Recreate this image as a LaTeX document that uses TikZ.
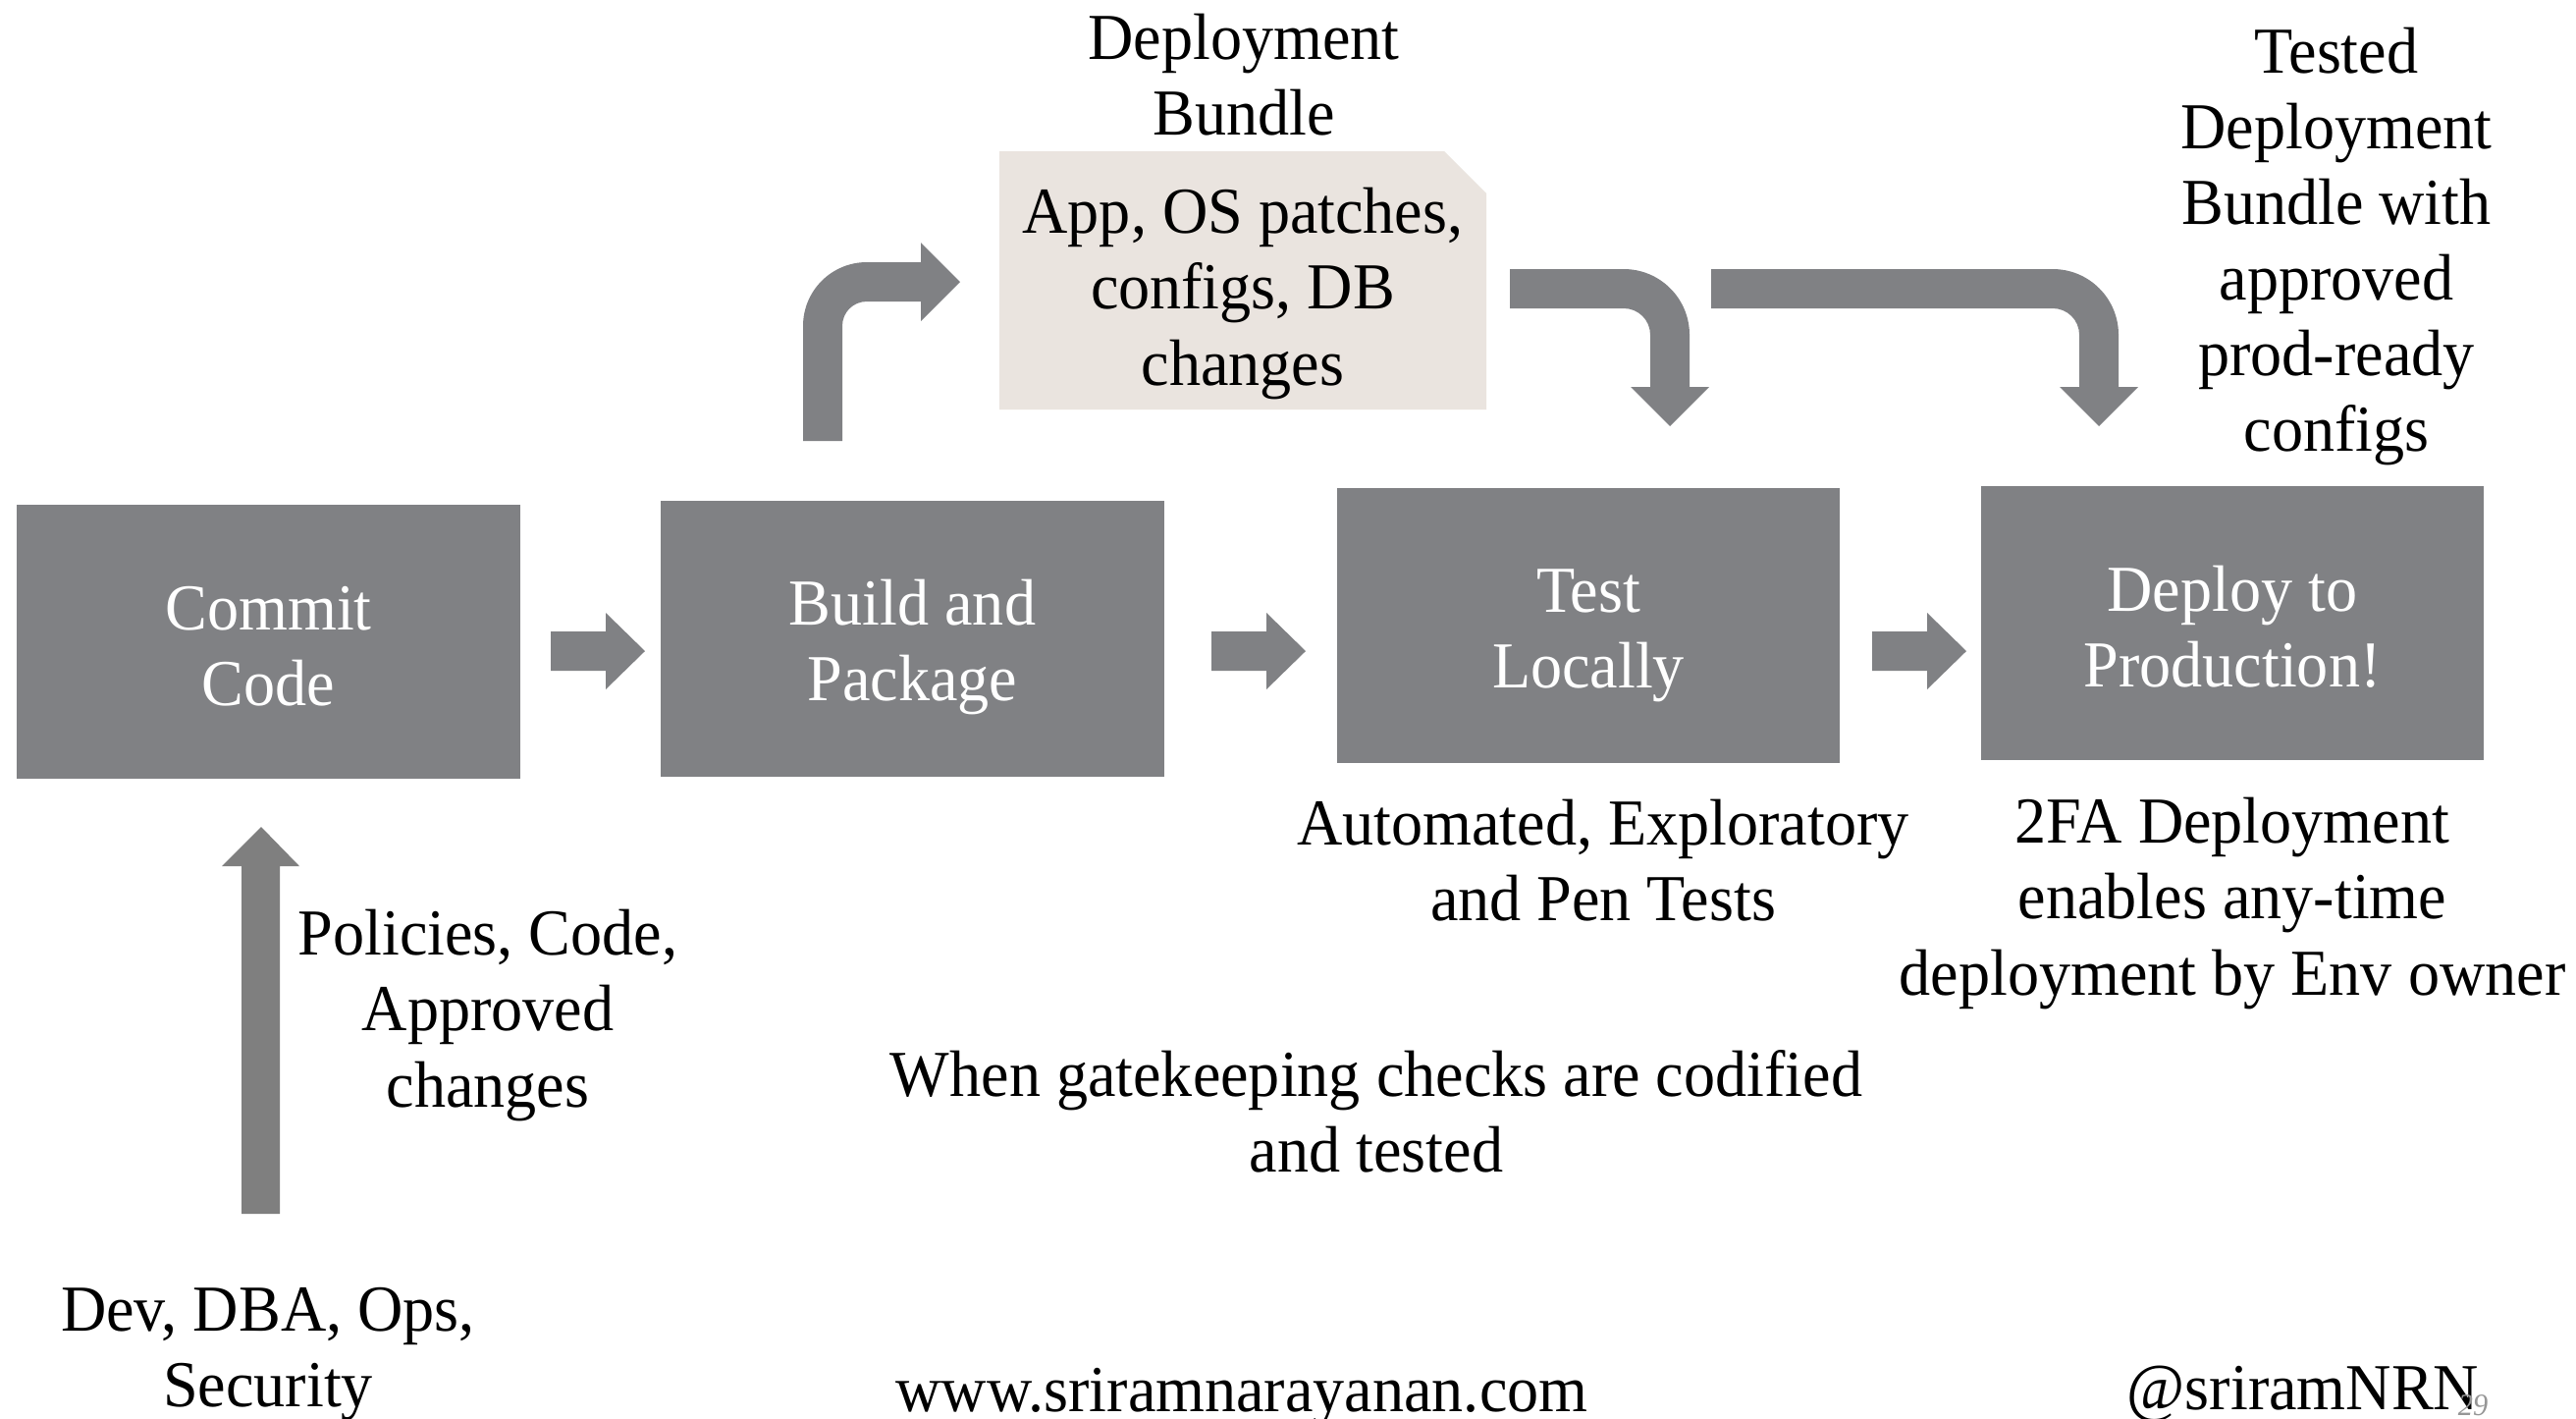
\documentclass[tikz,border=0pt]{standalone}
\usepackage{fontspec}
\setmainfont{Liberation Serif}[FakeStretch=0.96]
\definecolor{boxgray}{RGB}{128,129,132}
\definecolor{arrgray}{RGB}{127,127,127}
\definecolor{bundlefill}{RGB}{234,228,223}
\definecolor{pagegray}{RGB}{150,150,150}
\tikzset{
  stagebox/.style={fill=boxgray, draw=none, text=white, align=center, inner sep=0pt,
    minimum width=5.13cm, minimum height=2.8cm, font=\fontsize{19}{21.9}\selectfont},
  lbl/.style={align=center, inner sep=0pt, text=black, font=\fontsize{19}{21.9}\selectfont},
  blockarrow/.style={fill=boxgray, draw=none},
}
\begin{document}
\begin{tikzpicture}[x=0.01cm, y=-0.01cm]
\useasboundingbox (0,0) rectangle (2624,1444);
\fill[white] (0,0) rectangle (2624,1444);

% stage boxes
\fill[boxgray] (17,514) rectangle (530,793);
\node[stagebox, fill=none, minimum height=0pt] (commit) at (273.5,658) {Commit\\Code};
\fill[boxgray] (673,510) rectangle (1186,791);
\node[stagebox, fill=none, minimum height=0pt] (build) at (929.5,659) {Build and\\Package};
\fill[boxgray] (1362,497) rectangle (1874,777);
\node[stagebox, fill=none, minimum height=0pt] (test) at (1618,647) {Test\\Locally};
\fill[boxgray] (2018,495) rectangle (2530,774);
\node[stagebox, fill=none, minimum height=0pt] (deploy) at (2274,638) {Deploy to\\Production!};

% deployment bundle (cut corner)
\fill[bundlefill] (1018,154) -- (1471,154) -- (1514,197) -- (1514,417) -- (1018,417) -- cycle;
\node[lbl] (bundle) at (1266,299) {App, OS patches,\\configs, DB\\changes};
\node[lbl] (bundletitle) at (1267,76) {Deployment\\Bundle};

% straight block arrows between boxes
\fill[blockarrow] (561,643) -- (617,643) -- (617,624) -- (657,663) -- (617,702) -- (617,683) -- (561,683) -- cycle;
\fill[blockarrow] (1234,643) -- (1290,643) -- (1290,624) -- (1330,663) -- (1290,702) -- (1290,683) -- (1234,683) -- cycle;
\fill[blockarrow] (1907,643) -- (1963,643) -- (1963,624) -- (2003,663) -- (1963,702) -- (1963,683) -- (1907,683) -- cycle;

% bent arrow: build -> bundle
\fill[blockarrow] (818,449) -- (818,332) .. controls (818,296) and (847,267) .. (883,267)
  -- (938,267) -- (938,247) -- (978,287) -- (938,327) -- (938,307) -- (883,307)
  .. controls (869,307) and (858,318) .. (858,332) -- (858,449) -- cycle;

% bent arrow: bundle -> test
\fill[blockarrow] (1538,274) -- (1654,274) .. controls (1691,274) and (1721,304) .. (1721,341)
  -- (1721,394) -- (1741,394) -- (1701,434) -- (1661,394) -- (1681,394) -- (1681,341)
  .. controls (1681,326) and (1669,314) .. (1654,314) -- (1538,314) -- cycle;

% bent arrow: -> deploy
\fill[blockarrow] (1743,274) -- (2091,274) .. controls (2128,274) and (2158,304) .. (2158,341)
  -- (2158,394) -- (2178,394) -- (2138,434) -- (2098,394) -- (2118,394) -- (2118,341)
  .. controls (2118,326) and (2106,314) .. (2091,314) -- (1743,314) -- cycle;

% up arrow into commit
\fill[arrgray] (246,1236) -- (246,882) -- (226,882) -- (266,842) -- (305,882) -- (285,882) -- (285,1236) -- cycle;

% labels
\node[lbl] (tested) at (2380,251) {Tested\\Deployment\\Bundle with\\approved\\prod-ready\\configs};
\node[lbl] (auto) at (1633,876) {Automated, Exploratory\\and Pen Tests};
\node[lbl] (twofa) at (2274,920) {2FA Deployment\\enables any-time\\deployment by Env owner};
\node[lbl] (policies) at (497,1034) {Policies, Code,\\Approved\\changes};
\node[lbl] (when) at (1402,1132) {When gatekeeping checks are codified\\and tested};
\node[lbl] (dev) at (273,1379) {Dev, DBA, Ops,\\Security};
\node[lbl] (www) at (1265,1423) {www.sriramnarayanan.com};
\node[lbl] (handle) at (2346,1420) {@sriramNRN};
\node[inner sep=0pt, text=pagegray, font=\fontsize{9}{10}\selectfont\itshape] (page) at (2519,1431) {29};
\end{tikzpicture}
\end{document}
